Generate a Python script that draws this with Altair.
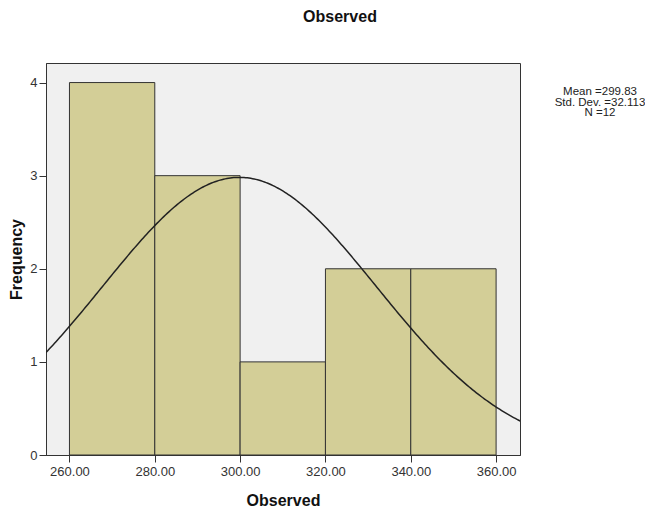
import altair as alt
import pandas as pd

# Histogram bins and counts
bin_start = [260, 280, 300, 320, 340]
bin_end = [280, 300, 320, 340, 360]
counts = [4, 3, 1, 2, 2]

# Normal-fit parameters (as printed on chart)
mean_val = 299.83
sd_val = 32.113
n_val = 12
bin_width = 20

x_ticks = [260, 280, 300, 320, 340, 360]
y_ticks = [0, 1, 2, 3, 4]
stats_lines = ["Mean =299.83", "Std. Dev. =32.113", "N =12"]

X_DOMAIN = [254.5, 365.6]
Y_DOMAIN = [0, 4.21]

bars_df = pd.DataFrame({"start": bin_start, "end": bin_end, "count": counts})

xscale = alt.Scale(domain=X_DOMAIN, nice=False, zero=False)
yscale = alt.Scale(domain=Y_DOMAIN, nice=False)

xaxis = alt.Axis(values=x_ticks, format=".2f", title="Observed", grid=False,
                 labelFont="Liberation Sans", labelFontSize=13, labelColor="#333333",
                 titleFont="Liberation Sans", titleFontSize=16, titleFontWeight="bold",
                 titleColor="#111111", titlePadding=14,
                 tickSize=7, tickColor="#333333", domainColor="#333333", labelPadding=3)
yaxis = alt.Axis(values=y_ticks, format="d", title="Frequency", grid=False,
                 labelFont="Liberation Sans", labelFontSize=13, labelColor="#333333",
                 titleFont="Liberation Sans", titleFontSize=16, titleFontWeight="bold",
                 titleColor="#111111", titlePadding=5,
                 tickSize=7, tickColor="#333333", domainColor="#333333", labelPadding=2)

bars = alt.Chart(bars_df).mark_rect(
    fill="#D3CE97", stroke="#333333", strokeWidth=1
).encode(
    x=alt.X("start:Q", scale=xscale, axis=xaxis),
    x2="end:Q",
    y=alt.Y("count:Q", scale=yscale, axis=yaxis),
    y2=alt.datum(0),
)

curve = alt.Chart(alt.sequence(X_DOMAIN[0], X_DOMAIN[1] + 0.1, 0.4, as_="x")).transform_calculate(
    dens=f"densityNormal(datum.x, {mean_val}, {sd_val}) * {n_val * bin_width}"
).mark_line(color="#222222", strokeWidth=1.5, clip=True).encode(
    x=alt.X("x:Q", scale=xscale),
    y=alt.Y("dens:Q", scale=yscale),
)

stats = alt.Chart(pd.DataFrame({"t": ["\n".join(stats_lines)]})).mark_text(
    font="Liberation Sans", fontSize=11.5, lineHeight=10.5, align="center",
    baseline="top", color="#222222"
).encode(
    x=alt.value(554), y=alt.value(23), text=alt.Text("t:N")
).transform_calculate(t="split(datum.t, '\\n')")

title = alt.Chart(pd.DataFrame({"t": ["Observed"]})).mark_text(
    font="Liberation Sans", fontSize=16, fontWeight="bold", align="center",
    baseline="middle", color="#111111"
).encode(x=alt.value(294), y=alt.value(-46), text="t:N")

chart = alt.layer(bars, curve, stats, title).properties(
    width=474, height=392,
    background="white",
    autosize=alt.AutoSizeParams(type="none"),
    padding={"left": 38, "top": 55, "right": 125, "bottom": 58},
).configure_view(
    fill="#F0F0F0", stroke="#333333", strokeWidth=1
)

chart.save("out.html", embed_options={"renderer": "svg", "actions": False})
